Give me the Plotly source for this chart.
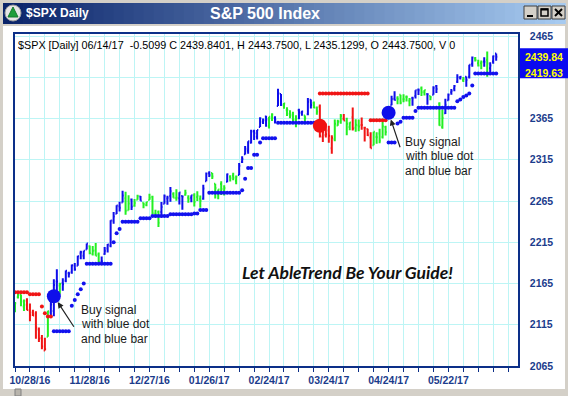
import plotly.graph_objects as go

# ---------------- data ----------------
# bar index: trading days counted from 10/28/16 (= 0)
bar_index = list(range(-5, 157))

opens = [
    2139.4, 2148.5, 2151.7, 2137.0, 2144.1,
    2132.2, 2129.8, 2128.7, 2109.4, 2098.8, 2083.8,
    2100.6, 2129.9, 2131.6, 2167.5, 2162.7,
    2165.6, 2168.3, 2177.5, 2178.6, 2186.9,
    2186.4, 2201.6, 2198.6, 2206.3, 2210.2,
    2200.8, 2205.0, 2200.2, 2191.1, 2200.7,
    2207.3, 2210.7, 2241.1, 2249.7, 2258.8,
    2263.3, 2268.4, 2253.8, 2266.8, 2259.2,
    2266.5, 2270.5, 2262.9, 2260.3, 2266.2,
    2270.2, 2249.5, 2251.6, 2251.6, 2261.6,
    2268.2, 2271.1, 2273.6, 2268.6, 2268.5,
    2271.1, 2272.7, 2269.1, 2269.1, 2271.9,
    2270.0, 2267.8, 2267.9, 2288.9, 2298.6,
    2299.0, 2286.0, 2274.0, 2285.6, 2276.7,
    2288.5, 2294.3, 2295.9, 2289.6, 2296.7,
    2312.3, 2321.7, 2326.1, 2335.6, 2349.6,
    2343.0, 2354.9, 2361.1, 2367.5, 2355.7,
    2365.2, 2366.1, 2380.1, 2394.8, 2380.9,
    2375.2, 2370.7, 2369.8, 2363.5, 2375.0,
    2371.6, 2368.6, 2370.3, 2387.7, 2383.7,
    2378.2, 2379.3, 2343.0, 2345.1, 2350.4,
    2329.1, 2339.8, 2356.5, 2361.3, 2364.8,
    2362.3, 2354.8, 2366.6, 2353.8, 2356.6,
    2357.2, 2353.9, 2352.2, 2342.0, 2332.6,
    2342.5, 2346.8, 2342.7, 2354.7, 2370.3,
    2381.5, 2389.0, 2389.7, 2393.7, 2388.5,
    2391.1, 2386.5, 2389.8, 2392.4, 2399.9,
    2401.6, 2396.8, 2394.8, 2392.4, 2394.0,
    2404.6, 2383.0, 2354.7, 2371.4, 2387.2,
    2397.0, 2401.4, 2409.5, 2414.5, 2411.7,
    2415.6, 2415.6, 2431.3, 2437.8, 2431.9,
    2432.0, 2434.3, 2436.4, 2425.9, 2434.2,
    2443.75,
]
highs = [
    2142.6, 2154.8, 2151.7, 2145.7, 2147.1,
    2140.7, 2133.3, 2131.5, 2111.8, 2102.6, 2099.1,
    2132.0, 2146.9, 2170.1, 2182.3, 2165.9,
    2171.4, 2180.8, 2179.2, 2188.1, 2189.9,
    2198.7, 2204.8, 2204.7, 2213.4, 2211.1,
    2210.5, 2214.1, 2202.6, 2197.9, 2209.4,
    2212.8, 2241.6, 2251.7, 2259.8, 2264.0,
    2277.5, 2276.2, 2272.1, 2268.1, 2267.5,
    2272.6, 2271.2, 2263.2, 2263.8, 2273.8,
    2271.3, 2254.5, 2253.6, 2263.9, 2272.8,
    2271.5, 2282.1, 2275.5, 2279.3, 2275.5,
    2271.8, 2278.7, 2272.1, 2272.0, 2274.3,
    2277.0, 2271.8, 2284.6, 2299.6, 2301.0,
    2299.0, 2286.0, 2279.1, 2289.1, 2284.0,
    2298.3, 2296.2, 2299.4, 2295.9, 2311.1,
    2319.2, 2331.6, 2337.6, 2351.3, 2351.3,
    2351.2, 2366.7, 2365.1, 2368.3, 2367.3,
    2371.5, 2367.8, 2401.0, 2394.8, 2383.9,
    2378.8, 2375.1, 2373.1, 2369.1, 2376.9,
    2374.4, 2368.6, 2390.0, 2388.1, 2385.7,
    2379.6, 2381.9, 2351.8, 2358.9, 2356.2,
    2344.9, 2363.8, 2363.4, 2370.4, 2370.4,
    2365.9, 2360.5, 2378.4, 2364.2, 2363.8,
    2366.4, 2355.2, 2352.7, 2348.3, 2349.1,
    2348.4, 2352.6, 2361.4, 2356.2, 2377.0,
    2392.5, 2398.2, 2392.1, 2393.7, 2394.5,
    2392.9, 2389.8, 2391.4, 2399.3, 2401.4,
    2403.9, 2399.7, 2395.7, 2392.4, 2404.1,
    2405.8, 2384.9, 2375.7, 2389.1, 2395.5,
    2400.9, 2405.6, 2418.7, 2416.7, 2415.3,
    2416.0, 2430.1, 2440.2, 2439.5, 2436.2,
    2435.3, 2439.3, 2446.2, 2433.2, 2441.5,
    2443.75,
]
lows = [
    2130.1, 2146.9, 2137.5, 2131.6, 2132.5,
    2119.4, 2125.5, 2097.9, 2094.0, 2085.2, 2083.8,
    2100.6, 2123.6, 2125.3, 2151.2, 2152.5,
    2156.1, 2166.4, 2172.2, 2176.7, 2180.4,
    2186.4, 2194.5, 2194.5, 2206.3, 2200.4,
    2198.9, 2198.8, 2187.4, 2188.4, 2200.0,
    2202.5, 2208.9, 2237.6, 2249.2, 2252.4,
    2263.3, 2248.4, 2253.8, 2254.2, 2258.2,
    2266.5, 2265.2, 2256.1, 2258.8, 2266.2,
    2249.1, 2244.6, 2233.6, 2245.1, 2261.6,
    2260.5, 2264.1, 2268.9, 2265.3, 2260.8,
    2254.3, 2271.5, 2262.8, 2263.4, 2258.4,
    2265.0, 2257.0, 2266.7, 2288.9, 2294.1,
    2291.6, 2268.0, 2267.2, 2272.4, 2271.7,
    2287.9, 2288.6, 2290.2, 2285.4, 2296.6,
    2311.1, 2321.4, 2322.2, 2334.8, 2338.9,
    2339.6, 2354.9, 2358.3, 2355.1, 2352.9,
    2361.9, 2359.0, 2380.1, 2380.2, 2376.9,
    2368.0, 2365.5, 2361.0, 2354.5, 2364.2,
    2368.5, 2358.2, 2368.9, 2377.2, 2377.6,
    2369.7, 2341.9, 2336.5, 2342.1, 2335.7,
    2322.3, 2337.6, 2356.2, 2358.6, 2362.6,
    2344.7, 2350.7, 2350.5, 2348.9, 2349.6,
    2351.5, 2337.3, 2343.8, 2329.0, 2332.5,
    2334.5, 2335.1, 2340.9, 2344.5, 2370.3,
    2381.2, 2386.8, 2382.4, 2382.4, 2384.8,
    2385.8, 2379.8, 2380.4, 2389.4, 2393.6,
    2392.4, 2392.8, 2381.7, 2387.2, 2393.9,
    2396.1, 2356.2, 2352.7, 2370.4, 2386.9,
    2393.9, 2398.0, 2408.0, 2412.2, 2409.4,
    2403.6, 2413.5, 2427.7, 2434.3, 2428.1,
    2424.8, 2427.9, 2415.7, 2418.5, 2431.3,
    2435.13,
]
closes = [
    2141.2, 2151.3, 2143.2, 2139.4, 2133.0,
    2126.4, 2126.2, 2111.7, 2097.9, 2088.7, 2085.2,
    2131.5, 2139.6, 2163.3, 2167.5, 2164.5,
    2164.2, 2180.4, 2176.9, 2187.1, 2181.9,
    2198.2, 2202.9, 2204.7, 2213.4, 2201.7,
    2204.7, 2198.8, 2191.1, 2192.0, 2204.7,
    2212.2, 2241.4, 2246.2, 2259.5, 2257.0,
    2271.7, 2253.3, 2262.0, 2258.1, 2262.5,
    2270.8, 2265.2, 2261.0, 2263.8, 2268.9,
    2249.9, 2249.3, 2238.8, 2257.8, 2270.8,
    2269.0, 2277.0, 2268.9, 2268.9, 2275.3,
    2270.4, 2274.6, 2267.9, 2271.9, 2263.7,
    2271.3, 2265.2, 2280.1, 2298.4, 2296.7,
    2294.7, 2280.9, 2278.9, 2279.6, 2280.9,
    2297.4, 2292.6, 2293.1, 2294.7, 2307.9,
    2316.1, 2328.3, 2337.6, 2349.3, 2347.2,
    2351.2, 2365.4, 2362.8, 2363.8, 2367.3,
    2369.8, 2363.6, 2396.0, 2381.9, 2383.1,
    2375.3, 2368.4, 2363.0, 2364.9, 2372.6,
    2373.5, 2365.5, 2385.3, 2381.4, 2378.3,
    2373.5, 2344.0, 2348.5, 2346.0, 2344.0,
    2341.6, 2358.6, 2361.1, 2368.1, 2362.7,
    2358.8, 2360.2, 2353.0, 2357.5, 2355.5,
    2357.2, 2353.8, 2344.9, 2329.0, 2349.0,
    2342.2, 2338.2, 2355.8, 2348.7, 2374.2,
    2388.6, 2387.5, 2388.8, 2384.2, 2388.3,
    2391.2, 2388.1, 2389.5, 2399.3, 2399.4,
    2396.9, 2399.6, 2394.4, 2390.9, 2402.3,
    2400.7, 2357.0, 2365.7, 2381.7, 2394.0,
    2398.4, 2404.4, 2415.1, 2415.8, 2412.9,
    2411.8, 2430.1, 2439.1, 2436.1, 2429.3,
    2433.1, 2433.8, 2431.8, 2429.4, 2440.4,
    2439.84,
]
# bar colour per bar: B = up-trend (blue), G = neutral (green), R = down-trend (red)
color_codes = (
    "GGGG" "RRRRRRR" "G" "BBB" "G" "BBBBBBBBB" "GGGG" "BBBBBBBB" "GG" "B" "GG" "B"
    "GGGGGG" "BBBB" "GG" "BB" "GG" "B" "GGG" "BBB" "GGGGG" "B" "GGG" "BBBBBBBBBB"
    "GG" "BBB" "GGGGG" "BB" "G" "BB" "GG" "RRRRR" "GGG" "R" "GG" "R" "GG" "RRRR"
    "GGGGG" "BBB" "GGGGG" "BBB" "GG" "B" "G" "BB" "GG" "BBBBBB" "G" "BBB" "GGG"
    "B" "G" "BBB"
)
N = None
red_stop = [
    2154.5, 2154.5, 2154.5, 2154.5, 2154.5, 2152, 2152, 2152, 2152, 2137,
    2129, 2125, 2125, N, N, N, N, N, N, N,
    N, N, N, N, N, N, N, N, N, N,
    N, N, N, N, N, N, N, N, N, N,
    N, N, N, N, N, N, N, N, N, N,
    N, N, N, N, N, N, N, N, N, N,
    N, N, N, N, N, N, N, N, N, N,
    N, N, N, N, N, N, N, N, N, N,
    N, N, N, N, N, N, N, N, N, N,
    N, N, N, N, N, N, N, N, N, N,
    N, N, 2395.5, 2395.5, 2395.5, 2395.5, 2395.5, 2395.5, 2395.5, 2395.5,
    2395.5, 2395.5, 2395.5, 2395.5, 2395.5, 2395.5, 2395.5, 2395.5, 2395.5, 2363,
    2363, 2363, 2363, 2363, 2363, N, N, N, N, N,
    N, N, N, N, N, N, N, N, N, N,
    N, N, N, N, N, N, N, N, N, N,
    N, N, N, N, N, N, N, N, N, N,
    N, N,
]
blue_stop = [
    N, N, N, N, N, N, N, N, N, N,
    N, N, N, 2107, 2107, 2107, 2107, 2107, 2107, 2138,
    2145, 2152, 2158, 2165, 2189, 2189, 2189, 2189, 2189, 2189,
    2189, 2189, 2189, 2215, 2226, 2231, 2240, 2240, 2240, 2240,
    2240, 2240, 2244, 2244, 2244, 2244, 2247, 2247, 2247, 2247,
    2247, 2247, 2249, 2249, 2249, 2249, 2249, 2249, 2249, 2249,
    2250, 2250, 2254, 2254, 2254, 2275, 2275, 2275, 2275, 2275,
    2275, 2275, 2275, 2275, 2275, 2275, 2278, 2292, 2305, 2305,
    2321, 2321, 2336, 2341, 2341, 2341, 2341, 2341, 2360, 2360,
    2360, 2360, 2360, 2360, 2360, 2360, 2360, 2360, 2360, 2360,
    2360, 2360, N, N, N, N, N, N, N, N,
    N, N, N, N, N, N, N, N, N, N,
    N, N, N, N, N, 2336, 2336, 2336, 2359, 2361,
    2366, 2366, 2366, 2366, 2374, 2378, 2378, 2378, 2378, 2378,
    2378, 2378, 2378, 2378, 2378, 2378, 2378, 2378, 2386, 2388,
    2391, 2393, 2395.5, 2405, 2419.63, 2419.63, 2419.63, 2419.63, 2419.63, 2419.63,
    2419.63, 2419.63,
]
buy_x = [8, 120]
buy_y = [2149.6, 2372.0]
sell_x = [97]
sell_y = [2356.3]

tick_index = [0, 20, 40, 60, 80, 100, 120, 140]
tick_labels = ["10/28/16", "11/28/16", "12/27/16", "01/26/17",
               "02/24/17", "03/24/17", "04/24/17", "05/22/17"]
# 2415 sits behind the last-value box, so only its grid line shows
price_labels = [2065, 2115, 2165, 2215, 2265, 2315, 2365, 2465]

header_text = ("$SPX [Daily] 06/14/17 &nbsp;-0.5099 C 2439.8401, H 2443.7500, "
               "L 2435.1299, O 2443.7500, V 0")
slogan = "Let AbleTrend Be Your Guide!"
note_lines = ["Buy signal", "with blue dot", "and blue bar"]

assert len(opens) == len(highs) == len(lows) == len(closes) == len(bar_index)
assert len(color_codes) == len(bar_index) == len(red_stop) == len(blue_stop)

# ---------------- geometry / style ----------------
W, H = 568, 396
ML, MR, MT, MB = 15, 50, 34, 30
PW, PH = W - ML - MR, H - MT - MB


def fx(px):
    return (px - ML) / PW


def fy(py):
    return (H - MB - py) / PH


NAVY = "#1B3C8C"
AXLINE = "#0C2F88"
GRID = "#BDF5F5"
BAR_COL = {"B": "#0E0EEA", "G": "#22F022", "R": "#F01515"}
SANS = "Liberation Sans, Arial, sans-serif"

fig = go.Figure()

for code, col in BAR_COL.items():
    sel = [i for i, c in enumerate(color_codes) if c == code]
    fig.add_trace(go.Ohlc(
        x=[bar_index[i] for i in sel],
        open=[opens[i] for i in sel],
        high=[highs[i] for i in sel],
        low=[lows[i] for i in sel],
        close=[closes[i] for i in sel],
        increasing=dict(line=dict(color=col, width=2)),
        decreasing=dict(line=dict(color=col, width=2)),
        tickwidth=0.4, hoverinfo="skip", showlegend=False,
    ))

fig.add_trace(go.Scatter(x=bar_index, y=blue_stop, mode="markers",
                         marker=dict(size=4, color="#1212EE"),
                         hoverinfo="skip", showlegend=False))
fig.add_trace(go.Scatter(x=bar_index, y=red_stop, mode="markers",
                         marker=dict(size=4, color="#F01515"),
                         hoverinfo="skip", showlegend=False))
fig.add_trace(go.Scatter(x=buy_x, y=buy_y, mode="markers",
                         marker=dict(size=14, color="#0F0FEA"),
                         hoverinfo="skip", showlegend=False))
fig.add_trace(go.Scatter(x=sell_x, y=sell_y, mode="markers",
                         marker=dict(size=14, color="#F01212"),
                         hoverinfo="skip", showlegend=False))

# ---------------- window chrome ----------------
shapes = []


def rect(x0, y0, x1, y1, fill, line=None, lw=0, layer="above"):
    shapes.append(dict(type="rect", xref="paper", yref="paper",
                       x0=fx(x0), x1=fx(x1), y0=fy(y1), y1=fy(y0),
                       fillcolor=fill, layer=layer,
                       line=dict(color=line or fill, width=lw)))


def seg(x0, y0, x1, y1, color, w):
    shapes.append(dict(type="line", xref="paper", yref="paper",
                       x0=fx(x0), x1=fx(x1), y0=fy(y0), y1=fy(y1),
                       layer="above", line=dict(color=color, width=w)))


GRAY = "#D4D0C8"
rect(0, 0, W, 3, GRAY)
rect(0, 0, 3, H, GRAY)
rect(W - 3, 0, W, H, GRAY)
# gradient title bar
c0, c1 = (10, 36, 106), (166, 202, 240)
n = 56
for i in range(n):
    t = i / (n - 1)
    col = "rgb(%d,%d,%d)" % tuple(round(a + (b - a) * t) for a, b in zip(c0, c1))
    x0 = 3 + i * (W - 6) / n
    rect(x0, 3, x0 + (W - 6) / n + 0.8, 24, col)
rect(3, 24, W - 3, 26, GRAY)
# bottom scroll bar
rect(0, 389, W, H, GRAY)
rect(15, 389, 21, H, "#B8B4AC", "#808080", 1)
# window buttons
for bx in (524, 538, 552):
    rect(bx, 6, bx + 13, 19, GRAY, "#404040", 1)
seg(527, 16, 533, 16, "#000000", 2)
rect(541, 9, 548, 16, "rgba(0,0,0,0)", "#000000", 1.5)
seg(541, 9.5, 548, 9.5, "#000000", 2)
seg(555, 9, 562, 16, "#000000", 2)
seg(555, 16, 562, 9, "#000000", 2)
# icon
shapes.append(dict(type="circle", xref="paper", yref="paper",
                   x0=fx(5), x1=fx(21), y0=fy(21), y1=fy(5),
                   fillcolor="#E6E6E6", line=dict(color="#9A9A9A", width=1),
                   layer="above"))
shapes.append(dict(type="path", xref="paper", yref="paper", layer="above",
                   path="M %f,%f L %f,%f L %f,%f Z" % (fx(13), fy(7), fx(18), fy(17), fx(8), fy(17)),
                   fillcolor="#1E9E3A", line=dict(color="#157A2C", width=1)))
# last value box on the price scale
rect(520, 48.3, W, 78.3, "#0A0AF0")

# ---------------- annotations ----------------
ann = []
ann.append(dict(xref="paper", yref="paper", x=fx(24), y=fy(13.5), xanchor="left",
                yanchor="middle", text="$SPX Daily", showarrow=False,
                font=dict(family=SANS, size=12, color="white", weight="bold")))
ann.append(dict(xref="paper", yref="paper", x=fx(265), y=fy(13.5), xanchor="center",
                yanchor="middle", text="S&amp;P 500 Index", showarrow=False,
                font=dict(family=SANS, size=16, color="white", weight="bold")))
ann.append(dict(xref="paper", yref="paper", x=fx(16), y=fy(45), xanchor="left",
                yanchor="middle", text=header_text, showarrow=False,
                font=dict(family=SANS, size=10.8, color="#000000")))
ann.append(dict(xref="paper", yref="paper", x=fx(347), y=fy(272), xanchor="center",
                yanchor="middle", text=slogan, showarrow=False,
                font=dict(family="Lato, Open Sans, sans-serif", size=17.5, color="#111111",
                          weight="bold", style="italic")))
for (lx, ly0) in ((79, 310), (403, 141.7)):
    for k, line in enumerate(note_lines):
        ann.append(dict(xref="paper", yref="paper", x=fx(lx), y=fy(ly0 + 14.4 * k),
                        xanchor="left", yanchor="middle", text=line, showarrow=False,
                        font=dict(family=SANS, size=12, color="#1A1A1A")))
# arrows pointing at the buy signals
for (sx, sy, ax, ay) in ((buy_x[0], buy_y[0], 21, 32), (buy_x[1], buy_y[1], 12, 36)):
    ann.append(dict(xref="x", yref="y", x=sx, y=sy, ax=ax, ay=ay, text="",
                    showarrow=True, arrowhead=2, arrowsize=1, arrowwidth=1.2,
                    arrowcolor="#222222", standoff=7))
# last close and current stop on the scale
for val in (closes[-1], blue_stop[-1]):
    ann.append(dict(xref="paper", yref="y", x=fx(524), y=val, xanchor="left",
                    yanchor="middle", text="%.2f" % val, showarrow=False,
                    borderpad=0, font=dict(family=SANS, size=10.5, color="#FFFF00",
                                           weight="bold")))

fig.update_layout(
    width=W, height=H,
    margin=dict(l=ML, r=MR, t=MT, b=MB, pad=0),
    paper_bgcolor="white", plot_bgcolor="white",
    hovermode=False, showlegend=False,
    shapes=shapes, annotations=ann,
    xaxis=dict(
        range=[-5.0, 163.3], tickmode="array", tickvals=tick_index, ticktext=tick_labels,
        ticks="outside", ticklen=4, tickcolor=AXLINE, tickwidth=1,
        showgrid=True, gridcolor=GRID, gridwidth=1,
        minor=dict(tickmode="linear", tick0=0, dtick=5, ticks="outside", ticklen=4,
                   tickcolor=AXLINE, showgrid=True, gridcolor=GRID, gridwidth=1),
        showline=True, mirror=True, linecolor=AXLINE, linewidth=1.5,
        zeroline=False, automargin=False, fixedrange=True,
        rangeslider=dict(visible=False),
        tickfont=dict(family=SANS, size=10.5, color=NAVY, weight="bold"),
    ),
    yaxis=dict(
        side="right", range=[2065, 2467.5], tickmode="array", tickvals=price_labels,
        ticks="", ticklabelstandoff=8,
        showgrid=True, gridcolor=GRID, gridwidth=1,
        minor=dict(tickmode="linear", tick0=2065, dtick=50, ticks="",
                   showgrid=True, gridcolor=GRID, gridwidth=1),
        showline=True, mirror=True, linecolor=AXLINE, linewidth=1.5,
        zeroline=False, automargin=False, fixedrange=True,
        tickfont=dict(family=SANS, size=10.5, color=NAVY, weight="bold"),
    ),
)

fig.write_html("out.html", config={"displayModeBar": False},
               post_script="document.body.style.margin='0px';"
                           "document.body.style.overflow='hidden';")
